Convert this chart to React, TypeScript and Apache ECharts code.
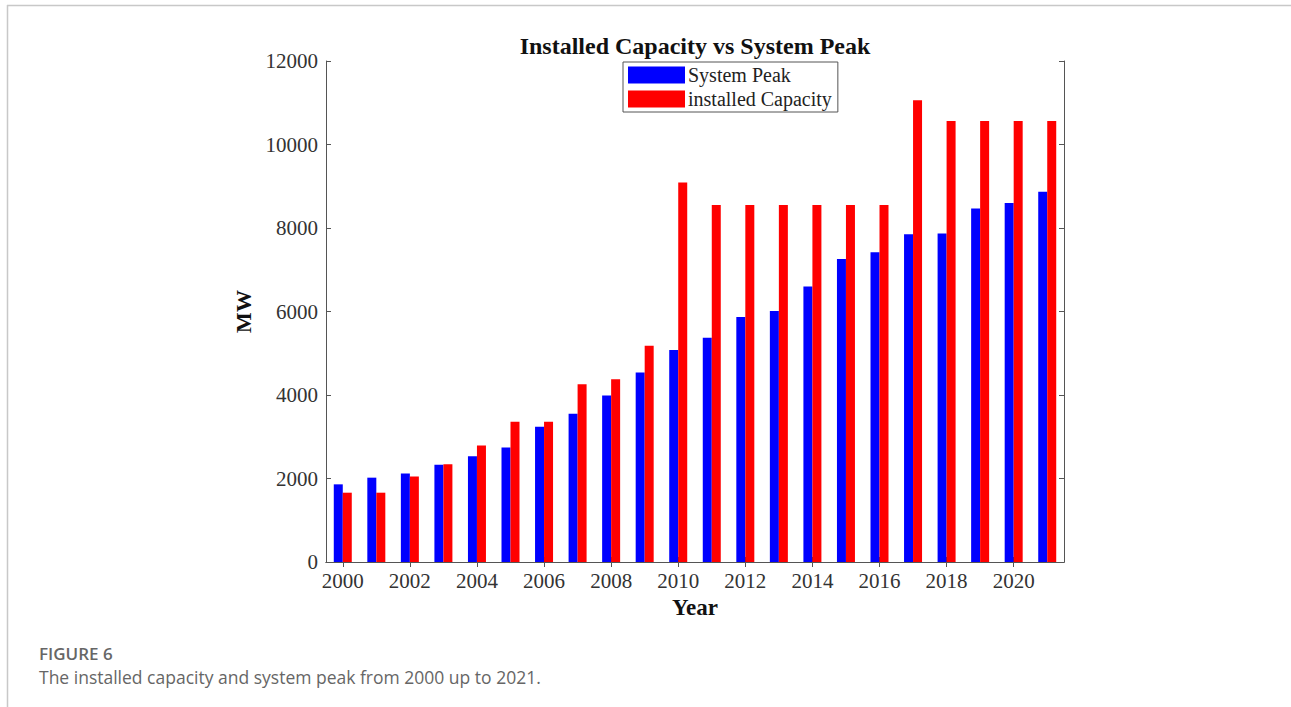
import React, { useEffect, useRef } from "react";
import * as echarts from "echarts";

const years = [
  "2000", "2001", "2002", "2003", "2004", "2005", "2006", "2007", "2008", "2009", "2010",
  "2011", "2012", "2013", "2014", "2015", "2016", "2017", "2018", "2019", "2020", "2021",
];
const systemPeak = [
  1860, 2020, 2120, 2330, 2530, 2740, 3240, 3550, 3990, 4540, 5080,
  5370, 5870, 6010, 6600, 7260, 7420, 7850, 7870, 8470, 8600, 8870,
];
const installedCapacity = [
  1660, 1660, 2050, 2340, 2790, 3360, 3360, 4260, 4380, 5180, 9090,
  8550, 8550, 8550, 8550, 8550, 8550, 11060, 10560, 10560, 10560, 10560,
];
const yTicks = { min: 0, max: 12000, interval: 2000 };
const titleText = "Installed Capacity vs System Peak";
const captionHead = "FIGURE 6";
const captionText = "The installed capacity and system peak from 2000 up to 2021.";

const SERIF = "'Liberation Serif', 'DejaVu Serif', serif";
const SANS = "'Open Sans', 'Noto Sans', sans-serif";

export default function App() {
  const ref = useRef<HTMLDivElement>(null);
  useEffect(() => {
    if (!ref.current) return;
    const chart = echarts.init(ref.current, null, { renderer: "svg" });
    const axisLine = { show: true, lineStyle: { color: "#555", width: 1 } };
    chart.setOption({
      animation: false,
      backgroundColor: "#fff",
      grid: { left: 326, top: 61, width: 738, height: 501, containLabel: false },
      legend: {
        left: 623,
        top: 62,
        orient: "vertical",
        itemWidth: 57,
        itemHeight: 17,
        itemGap: 4,
        padding: [3, 6, 3, 5],
        borderColor: "#555",
        borderWidth: 1,
        backgroundColor: "#fff",
        icon: "rect",
        textStyle: { fontFamily: SERIF, fontSize: 20, color: "#222", padding: [0, 0, 0, -2] },
        data: ["System Peak", "installed Capacity"],
        z: 10,
      },
      xAxis: [
        {
          type: "category",
          data: years,
          position: "bottom",
          boundaryGap: true,
          axisLine,
          axisTick: { show: true, inside: true, alignWithLabel: true, interval: 1, length: 5, lineStyle: { color: "#333" } },
          axisLabel: { interval: 1, fontFamily: SERIF, fontSize: 21, color: "#333", margin: 8 },
          name: "Year",
          nameLocation: "middle",
          nameGap: 32,
          nameTextStyle: { fontFamily: SERIF, fontSize: 23, fontWeight: "bold", color: "#111" },
          splitLine: { show: false },
        },
        {
          type: "category",
          data: years,
          position: "top",
          boundaryGap: true,
          axisLine,
          axisTick: { show: true, inside: true, alignWithLabel: true, interval: 1, length: 5, lineStyle: { color: "#555" } },
          axisLabel: { show: false },
          splitLine: { show: false },
        },
      ],
      yAxis: [
        {
          type: "value",
          min: yTicks.min,
          max: yTicks.max,
          interval: yTicks.interval,
          position: "left",
          axisLine,
          axisTick: { show: true, inside: true, length: 5, lineStyle: { color: "#555" } },
          axisLabel: { fontFamily: SERIF, fontSize: 21, color: "#333", margin: 8, formatter: (v: number) => String(v) },
          splitLine: { show: false },
          name: "MW",
          nameLocation: "middle",
          nameRotate: 90,
          nameGap: 72,
          nameTextStyle: { fontFamily: SERIF, fontSize: 22, fontWeight: "bold", color: "#111" },
        },
        {
          type: "value",
          min: yTicks.min,
          max: yTicks.max,
          interval: yTicks.interval,
          position: "right",
          axisLine,
          axisTick: { show: true, inside: true, length: 5, lineStyle: { color: "#555" } },
          axisLabel: { show: false },
          splitLine: { show: false },
        },
      ],
      series: [
        {
          name: "System Peak",
          type: "bar",
          data: systemPeak,
          barWidth: 9,
          barGap: "0%",
          itemStyle: { color: "#0000ff" },
        },
        {
          name: "installed Capacity",
          type: "bar",
          data: installedCapacity,
          barWidth: 9,
          barGap: "0%",
          itemStyle: { color: "#ff0000" },
        },
      ],
      graphic: [
        { type: "line", shape: { x1: 7, y1: 5.5, x2: 1291, y2: 5.5 }, style: { stroke: "#c8c8c8", lineWidth: 1.5 } },
        { type: "line", shape: { x1: 7.5, y1: 5, x2: 7.5, y2: 707 }, style: { stroke: "#c8c8c8", lineWidth: 1.5 } },
        {
          type: "text",
          x: 695,
          y: 46,
          style: { text: titleText, fontFamily: SERIF, fontSize: 24, fontWeight: "bold", fill: "#111", align: "center", verticalAlign: "middle" },
        },
        {
          type: "text",
          x: 39,
          y: 653,
          style: { text: captionHead, fontFamily: SANS, fontSize: 17, fontWeight: 600, fill: "#666", verticalAlign: "middle" },
        },
        {
          type: "text",
          x: 39,
          y: 677,
          style: { text: captionText, fontFamily: SANS, fontSize: 17.5, fill: "#666", verticalAlign: "middle" },
        },
      ],
    });
    return () => chart.dispose();
  }, []);
  return <div ref={ref} style={{ position: "absolute", left: 0, top: 0, width: 1291, height: 707 }} />;
}
